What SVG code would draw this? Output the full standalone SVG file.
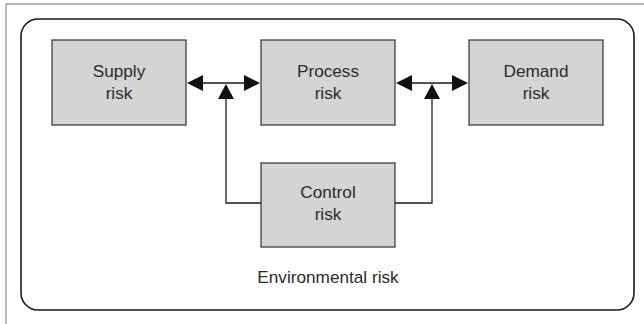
<svg xmlns="http://www.w3.org/2000/svg" width="644" height="324" viewBox="0 0 644 324">
<defs>
<style>
.box{fill:#d4d4d4;stroke:#404040;stroke-width:1.3}
.t{font-family:"Liberation Sans",Arial,sans-serif;font-size:17.2px;fill:#2b2b2b;text-anchor:middle}
.c{fill:none;stroke:#1a1a1a;stroke-width:1.3}
.h{fill:#111}
</style>
</defs>
<rect width="644" height="324" fill="#fff"/>
<path d="M6 324 V4 H644" fill="none" stroke="#9a9a9a" stroke-width="1.3"/>
<g id="environmental">
<rect x="21" y="19" width="613" height="291" rx="17" fill="none" stroke="#1a1a1a" stroke-width="1.6"/>
<text class="t" x="328" y="283">Environmental risk</text>
</g>
<g id="supply">
<rect class="box" x="52" y="40" width="134" height="85"/>
<text class="t" x="119" y="77">Supply</text>
<text class="t" x="119" y="99">risk</text>
</g>
<g id="process">
<rect class="box" x="261" y="40" width="134" height="85"/>
<text class="t" x="328" y="77">Process</text>
<text class="t" x="328" y="99">risk</text>
</g>
<g id="demand">
<rect class="box" x="469" y="40" width="134" height="85"/>
<text class="t" x="536" y="77">Demand</text>
<text class="t" x="536" y="99">risk</text>
</g>
<g id="control">
<rect class="box" x="261" y="163" width="134" height="84"/>
<text class="t" x="328" y="198">Control</text>
<text class="t" x="328" y="220">risk</text>
</g>
<g id="connectors">
<path class="c" d="M200 83 H247"/>
<path class="h" d="M187 83 L203 75 V91 Z"/>
<path class="h" d="M260 83 L244 75 V91 Z"/>
<path class="c" d="M409 83 H455"/>
<path class="h" d="M396 83 L412 75 V91 Z"/>
<path class="h" d="M468 83 L452 75 V91 Z"/>
<path class="c" d="M261 203 H226 V98"/>
<path class="h" d="M226 84 L218 99 H234 Z"/>
<path class="c" d="M395 203 H432 V98"/>
<path class="h" d="M432 84 L424 99 H440 Z"/>
</g>
</svg>
